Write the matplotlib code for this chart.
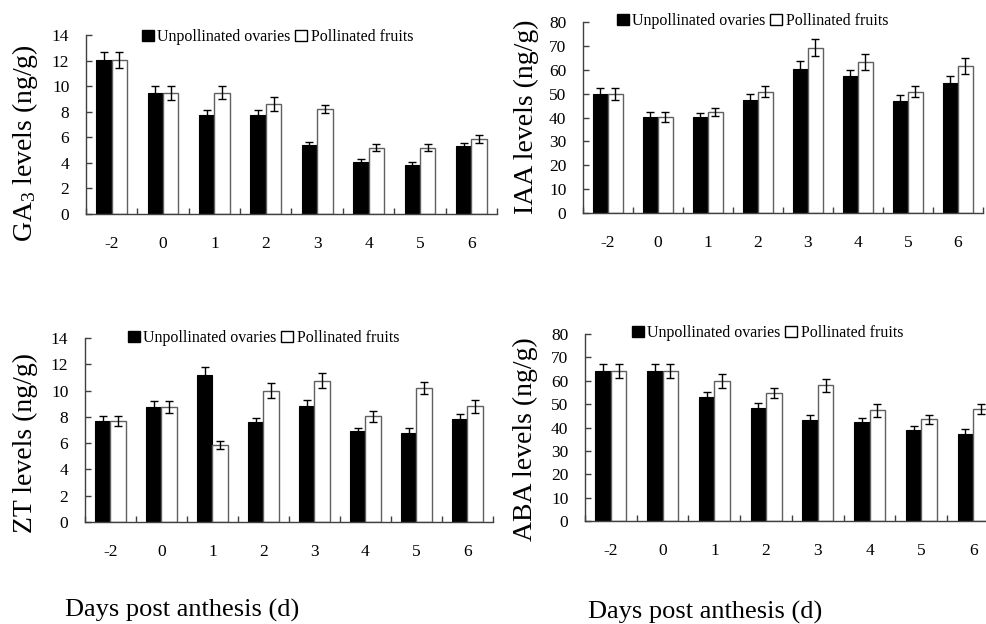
import matplotlib
matplotlib.use("Agg")
import matplotlib.pyplot as plt
from matplotlib.patches import Patch
import numpy as np

plt.rcParams["font.family"] = "Liberation Serif"
plt.rcParams["mathtext.fontset"] = "custom"
plt.rcParams["mathtext.rm"] = "Liberation Serif"
plt.rcParams["mathtext.it"] = "Liberation Serif:italic"

days = ["-2", "0", "1", "2", "3", "4", "5", "6"]
series_names = ["Unpollinated ovaries", "Pollinated fruits"]

ga3_unpoll = [12.05, 9.45, 7.75, 7.75, 5.4, 4.05, 3.85, 5.3]
ga3_unpoll_err = [0.6, 0.55, 0.35, 0.35, 0.22, 0.25, 0.18, 0.26]
ga3_poll = [12.05, 9.45, 9.5, 8.6, 8.2, 5.2, 5.2, 5.85]
ga3_poll_err = [0.6, 0.55, 0.5, 0.55, 0.32, 0.26, 0.26, 0.3]

iaa_unpoll = [49.7, 40.1, 40.1, 47.3, 60.5, 57.3, 47.0, 54.5]
iaa_unpoll_err = [2.5, 2.1, 1.7, 2.6, 3.1, 2.8, 2.6, 2.8]
iaa_poll = [49.7, 40.1, 42.3, 50.8, 69.3, 63.4, 50.8, 61.6]
iaa_poll_err = [2.5, 2.1, 1.8, 2.4, 3.7, 3.3, 2.4, 3.3]

zt_unpoll = [7.7, 8.75, 11.2, 7.6, 8.85, 6.9, 6.8, 7.85]
zt_unpoll_err = [0.38, 0.43, 0.56, 0.31, 0.46, 0.27, 0.33, 0.36]
zt_poll = [7.7, 8.75, 5.85, 10.0, 10.75, 8.05, 10.2, 8.8]
zt_poll_err = [0.38, 0.43, 0.3, 0.56, 0.56, 0.41, 0.46, 0.5]

aba_unpoll = [64.3, 64.3, 53.1, 48.5, 43.2, 42.4, 39.1, 37.3]
aba_unpoll_err = [3.0, 3.0, 2.1, 2.0, 2.3, 1.7, 1.7, 1.9]
aba_poll = [64.3, 64.3, 60.0, 54.8, 58.0, 47.4, 43.6, 47.9]
aba_poll_err = [3.0, 3.0, 3.1, 2.3, 2.9, 2.7, 1.9, 2.3]

W, H = 987, 624
AX_COL = "#404040"
EDGE_WHITE = "#606060"


def px(x0, x1, y_bottom, y_top):
    return [x0 / W, 1 - y_bottom / H, (x1 - x0) / W, (y_bottom - y_top) / H]


def draw_panel(ax, unpoll, unpoll_err, poll, poll_err, ymax, ystep):
    x = np.arange(len(days))
    bw = 0.3
    ax.bar(x - bw / 2, unpoll, bw, color="black", edgecolor="black", linewidth=0.8,
           yerr=unpoll_err, error_kw=dict(ecolor="black", elinewidth=1, capsize=3, capthick=1))
    ax.bar(x + bw / 2, poll, bw, color="white", edgecolor=EDGE_WHITE, linewidth=1,
           yerr=poll_err, error_kw=dict(ecolor="black", elinewidth=1, capsize=3, capthick=1))
    ax.set_xlim(-0.5, len(days) - 0.5)
    ax.set_ylim(0, ymax)
    ax.set_yticks(np.arange(0, ymax + 0.1, ystep))
    ax.set_xticks(x)
    ax.set_xticklabels(days)
    ax.set_xticks(np.arange(-0.5, len(days) + 0.5, 1.0), minor=True)
    ax.tick_params(axis="x", which="major", length=0, pad=16, labelsize=12.5)
    ax.tick_params(axis="x", which="minor", direction="in", length=4, width=1, color=AX_COL)
    ax.tick_params(axis="y", direction="in", length=4, width=1, color=AX_COL, pad=12, labelsize=12.5)
    for s in ["top", "right"]:
        ax.spines[s].set_visible(False)
    for s in ["left", "bottom"]:
        ax.spines[s].set_color(AX_COL)
        ax.spines[s].set_linewidth(1)


def add_legend(fig, xl, yc):
    handles = [Patch(facecolor="black", edgecolor="black"),
               Patch(facecolor="white", edgecolor="black")]
    fig.legend(handles, series_names, loc="center left",
               bbox_to_anchor=(xl / W, 1 - yc / H), bbox_transform=fig.transFigure,
               ncol=2, frameon=False, fontsize=11.5, handlelength=0.75, handleheight=0.75,
               handletextpad=0.2, columnspacing=0.3, borderpad=0, borderaxespad=0)


fig = plt.figure(figsize=(W / 100, H / 100), dpi=100)

ax1 = fig.add_axes(px(86, 497, 214, 35))
draw_panel(ax1, ga3_unpoll, ga3_unpoll_err, ga3_poll, ga3_poll_err, 14, 2)
ax2 = fig.add_axes(px(583, 983, 213, 22))
draw_panel(ax2, iaa_unpoll, iaa_unpoll_err, iaa_poll, iaa_poll_err, 80, 10)
ax3 = fig.add_axes(px(85, 493, 522, 338))
draw_panel(ax3, zt_unpoll, zt_unpoll_err, zt_poll, zt_poll_err, 14, 2)
ax4 = fig.add_axes(px(585, 999, 521, 334))
draw_panel(ax4, aba_unpoll, aba_unpoll_err, aba_poll, aba_poll_err, 80, 10)

add_legend(fig, 142, 37)
add_legend(fig, 617, 21)
add_legend(fig, 128, 338)
add_legend(fig, 632, 333)

ylab = dict(rotation=90, ha="center", va="center", fontsize=20)
fig.text(25 / W, 1 - 143 / H, "GA$_3$ levels (ng/g)", **ylab)
fig.text(526 / W, 1 - 117 / H, "IAA levels (ng/g)", **ylab)
fig.text(25 / W, 1 - 443 / H, "ZT levels (ng/g)", **ylab)
fig.text(525 / W, 1 - 439 / H, "ABA levels (ng/g)", **ylab)

fig.text(182 / W, 1 - 610 / H, "Days post anthesis (d)", ha="center", va="center", fontsize=19)
fig.text(705 / W, 1 - 612 / H, "Days post anthesis (d)", ha="center", va="center", fontsize=19)

fig.savefig("out.png", dpi=100)
